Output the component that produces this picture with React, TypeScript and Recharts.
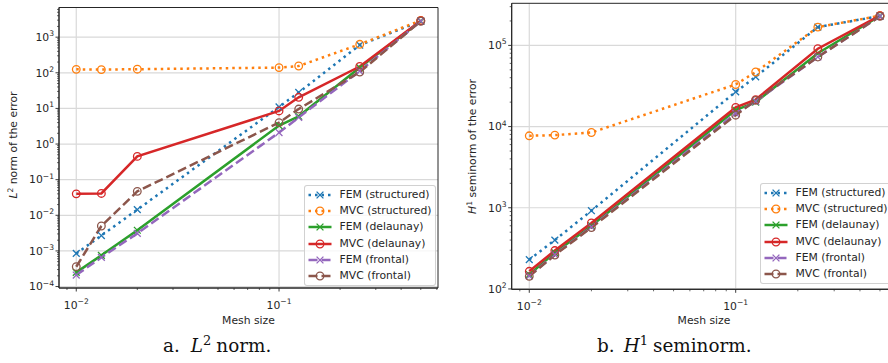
import { LineChart, Line, XAxis, YAxis, CartesianGrid, ReferenceArea } from "recharts";

const meshSizes = [0.01, 0.0133, 0.02, 0.1, 0.125, 0.25, 0.5];

// a. L2 norm of the error
const l2FemStructured = [8.5e-4, 2.7e-3, 0.0144, 11, 28, 600, 2800];
const l2MvcStructured = [125, 123, 126, 140, 155, 630, 2950];
const l2FemDelaunay = [2.5e-4, 7.5e-4, 3.8e-3, 3.3, 6, 140, 2800];
const l2MvcDelaunay = [0.04, 0.041, 0.45, 8.5, 20.5, 150, 2900];
const l2FemFrontal = [2.1e-4, 6.6e-4, 3.1e-3, 2.1, 5.6, 112, 2800];
const l2MvcFrontal = [3.6e-4, 5e-3, 0.047, 4.0, 9.6, 105, 2800];

// b. H1 seminorm of the error
const h1FemStructured = [230, 400, 920, 26800, 41000, 168000, 230000];
const h1MvcStructured = [7700, 7850, 8450, 33000, 47000, 168000, 232000];
const h1FemDelaunay = [150, 280, 600, 16000, 20000, 80000, 230000];
const h1MvcDelaunay = [165, 297, 650, 17200, 21500, 91000, 232000];
const h1FemFrontal = [145, 265, 580, 14500, 20500, 72000, 228000];
const h1MvcFrontal = [143, 262, 570, 13800, 21000, 72000, 228000];

const seriesNames = ["FEM (structured)", "MVC (structured)", "FEM (delaunay)", "MVC (delaunay)", "FEM (frontal)", "MVC (frontal)"];
const seriesColors = ["#1f77b4", "#ff7f0e", "#2ca02c", "#d62728", "#9467bd", "#8c564b"];
const seriesDashes = ["2.5 4", "2.5 4", "", "", "9 4", "9 4"];
const seriesMarkers = ["x", "o", "x", "o", "x", "o"];

const xDomain: [number, number] = [0.00822, 0.608];
const xMajorTicks = [0.01, 0.1];
const l2Domain: [number, number] = [9.1e-5, 6800];
const l2MajorTicks = [1e-4, 1e-3, 1e-2, 1e-1, 1, 10, 100, 1000];
const h1Domain: [number, number] = [99, 3.3e5];
const h1MajorTicks = [100, 1000, 10000, 100000];
const minorSteps = [1, 2, 3, 4, 5, 6, 7, 8, 9];

const FONT = "DejaVu Sans";
const INK = "#262626";

const isDecade = (v: number) => Math.abs(Math.log10(v) - Math.round(Math.log10(v))) < 1e-6;

function withMinor(majors: number[], domain: [number, number]) {
  const out: number[] = [];
  const decades = [majors[0] / 10, ...majors];
  decades.forEach((d) =>
    minorSteps.forEach((m) => {
      const v = Number((m * d).toPrecision(6));
      if (v >= domain[0] && v <= domain[1] && !out.includes(v)) out.push(v);
    })
  );
  return out;
}

const supText = (v: number) => {
  const e = Math.round(Math.log10(v));
  return e < 0 ? "\u2212" + -e : String(e);
};

function YTick(props: any) {
  const { x, y, payload } = props;
  const major = isDecade(payload.value);
  return (
    <g>
      <line x1={x} x2={x - (major ? 3.5 : 2)} y1={y} y2={y} stroke={INK} strokeWidth={major ? 0.9 : 0.7} />
      {major && (
        <text x={x - 5} y={y + 3.8} textAnchor="end" fontFamily={FONT} fontSize={10.8} fill={INK}>
          10<tspan dy={-4.8} fontSize={7.6}>{supText(payload.value)}</tspan>
        </text>
      )}
    </g>
  );
}

function XTick(props: any) {
  const { x, y, payload } = props;
  const major = isDecade(payload.value);
  return (
    <g>
      <line x1={x} x2={x} y1={y} y2={y + (major ? 3.5 : 2)} stroke={INK} strokeWidth={major ? 0.9 : 0.7} />
      {major && (
        <text x={x} y={y + 20.5} textAnchor="middle" fontFamily={FONT} fontSize={10.8} fill={INK}>
          10<tspan dy={-4.8} fontSize={7.6}>{supText(payload.value)}</tspan>
        </text>
      )}
    </g>
  );
}

function Marker({ kind, color, cx, cy }: { kind: string; color: string; cx: number; cy: number }) {
  if (kind === "x") {
    const s = 3.4;
    return (
      <g stroke={color} strokeWidth={1.3}>
        <line x1={cx - s} y1={cy - s} x2={cx + s} y2={cy + s} />
        <line x1={cx - s} y1={cy + s} x2={cx + s} y2={cy - s} />
      </g>
    );
  }
  return <circle cx={cx} cy={cy} r={3.8} fill="none" stroke={color} strokeWidth={1.3} />;
}

const makeDot = (kind: string, color: string) => (p: any) => {
  if (p.cx == null || p.cy == null) return <g key={p.index} />;
  return <Marker key={p.index} kind={kind} color={color} cx={p.cx} cy={p.cy} />;
};

function buildRows(cols: number[][]) {
  return meshSizes.map((h, i) => {
    const row: Record<string, number> = { h };
    cols.forEach((c, k) => (row["s" + k] = c[i]));
    return row;
  });
}

interface PlotProps {
  left: number;
  width: number;
  yAxisWidth: number;
  top: number;
  xAxisHeight: number;
  marginRight: number;
  yDomain: [number, number];
  yMajor: number[];
  cols: number[][];
}

function ErrorPlot({ left, width, yAxisWidth, top, xAxisHeight, marginRight, yDomain, yMajor, cols }: PlotProps) {
  const data = buildRows(cols);
  return (
    <div style={{ position: "absolute", left, top: 0 }}>
      <LineChart width={width} height={330} data={data} margin={{ top, right: marginRight, left: 0, bottom: 0 }}>
        <CartesianGrid stroke="#d9d9d9" strokeWidth={1.2} horizontalValues={yMajor} verticalValues={xMajorTicks} />
        <XAxis
          dataKey="h"
          type="number"
          scale="log"
          domain={xDomain}
          allowDataOverflow
          ticks={withMinor(xMajorTicks, xDomain)}
          interval={0}
          tick={XTick}
          tickLine={false}
          tickSize={0}
          tickMargin={0}
          height={xAxisHeight}
          axisLine={{ stroke: INK, strokeWidth: 1 }}
        />
        <YAxis
          type="number"
          scale="log"
          domain={yDomain}
          allowDataOverflow
          ticks={withMinor(yMajor, yDomain)}
          interval={0}
          tick={YTick}
          tickLine={false}
          tickSize={0}
          tickMargin={0}
          width={yAxisWidth}
          axisLine={{ stroke: INK, strokeWidth: 1 }}
        />
        <ReferenceArea
          x1={xDomain[0]}
          x2={xDomain[1]}
          y1={yDomain[0]}
          y2={yDomain[1]}
          ifOverflow="visible"
          fill="none"
          stroke={INK}
          strokeWidth={1}
        />
        {cols.map((_, k) => (
          <Line
            key={k}
            dataKey={"s" + k}
            name={seriesNames[k]}
            type="linear"
            stroke={seriesColors[k]}
            strokeWidth={2.5}
            strokeDasharray={seriesDashes[k] || undefined}
            dot={makeDot(seriesMarkers[k], seriesColors[k])}
            activeDot={false}
            isAnimationActive={false}
          />
        ))}
      </LineChart>
    </div>
  );
}

function ErrorLegend({ left, top }: { left: number; top: number }) {
  return (
    <div
      style={{
        position: "absolute",
        left,
        top,
        width: 130,
        padding: "1px 0",
        border: "1px solid rgba(204,204,204,0.9)",
        borderRadius: 3,
        background: "rgba(255,255,255,0.8)",
        fontFamily: FONT,
        fontSize: 10.8,
        color: INK,
      }}
    >
      {seriesNames.map((name, k) => (
        <div key={name} style={{ height: 16.2, display: "flex", alignItems: "center", whiteSpace: "nowrap" }}>
          <svg width={34.5} height={16} style={{ flex: "none" }}>
            <line
              x1={3.5}
              x2={26.5}
              y1={8}
              y2={8}
              stroke={seriesColors[k]}
              strokeWidth={2.5}
              strokeDasharray={seriesDashes[k] || undefined}
            />
            <Marker kind={seriesMarkers[k]} color={seriesColors[k]} cx={15} cy={8} />
          </svg>
          <span style={{ lineHeight: "16px" }}>{name}</span>
        </div>
      ))}
    </div>
  );
}

export default function App() {
  return (
    <div style={{ position: "absolute", left: 0, top: 0, width: 888, height: 363, overflow: "hidden", background: "#fff" }}>
      <ErrorPlot
        left={0}
        width={445}
        yAxisWidth={59}
        top={7.5}
        xAxisHeight={42}
        marginRight={7}
        yDomain={l2Domain}
        yMajor={l2MajorTicks}
        cols={[l2FemStructured, l2MvcStructured, l2FemDelaunay, l2MvcDelaunay, l2FemFrontal, l2MvcFrontal]}
      />
      <ErrorPlot
        left={445}
        width={460}
        yAxisWidth={66.7}
        top={3.3}
        xAxisHeight={40.7}
        marginRight={7.5}
        yDomain={h1Domain}
        yMajor={h1MajorTicks}
        cols={[h1FemStructured, h1MvcStructured, h1FemDelaunay, h1MvcDelaunay, h1FemFrontal, h1MvcFrontal]}
      />
      <svg width={888} height={363} style={{ position: "absolute", left: 0, top: 0, pointerEvents: "none" }}>
        <g fontFamily={FONT} fontSize={10.8} fill={INK}>
          <text transform="translate(17,145) rotate(-90)" textAnchor="middle">
            <tspan fontStyle="italic">L</tspan>
            <tspan dy={-4.5} fontSize={7.6}>2</tspan>
            <tspan dy={4.5}> norm of the error</tspan>
          </text>
          <text transform="translate(476,146.5) rotate(-90)" textAnchor="middle">
            <tspan fontStyle="italic">H</tspan>
            <tspan dy={-4.5} fontSize={7.6}>1</tspan>
            <tspan dy={4.5}> seminorm of the error</tspan>
          </text>
          <text x={248.5} y={324} textAnchor="middle">Mesh size</text>
          <text x={704} y={324} textAnchor="middle">Mesh size</text>
        </g>
        <g fontFamily="DejaVu Serif" fontSize={18.4} fill="#111">
          <text x={163} y={352}>
            a.<tspan dx={11} fontStyle="italic">L</tspan>
            <tspan dy={-7.5} fontSize={13}>2</tspan>
            <tspan dy={7.5} dx={5}>norm.</tspan>
          </text>
          <text x={597} y={352}>
            b.<tspan dx={9} fontStyle="italic">H</tspan>
            <tspan dy={-7.5} fontSize={13}>1</tspan>
            <tspan dy={7.5} dx={5}>seminorm.</tspan>
          </text>
        </g>
      </svg>
      <ErrorLegend left={304} top={185} />
      <ErrorLegend left={760} top={183} />
    </div>
  );
}
